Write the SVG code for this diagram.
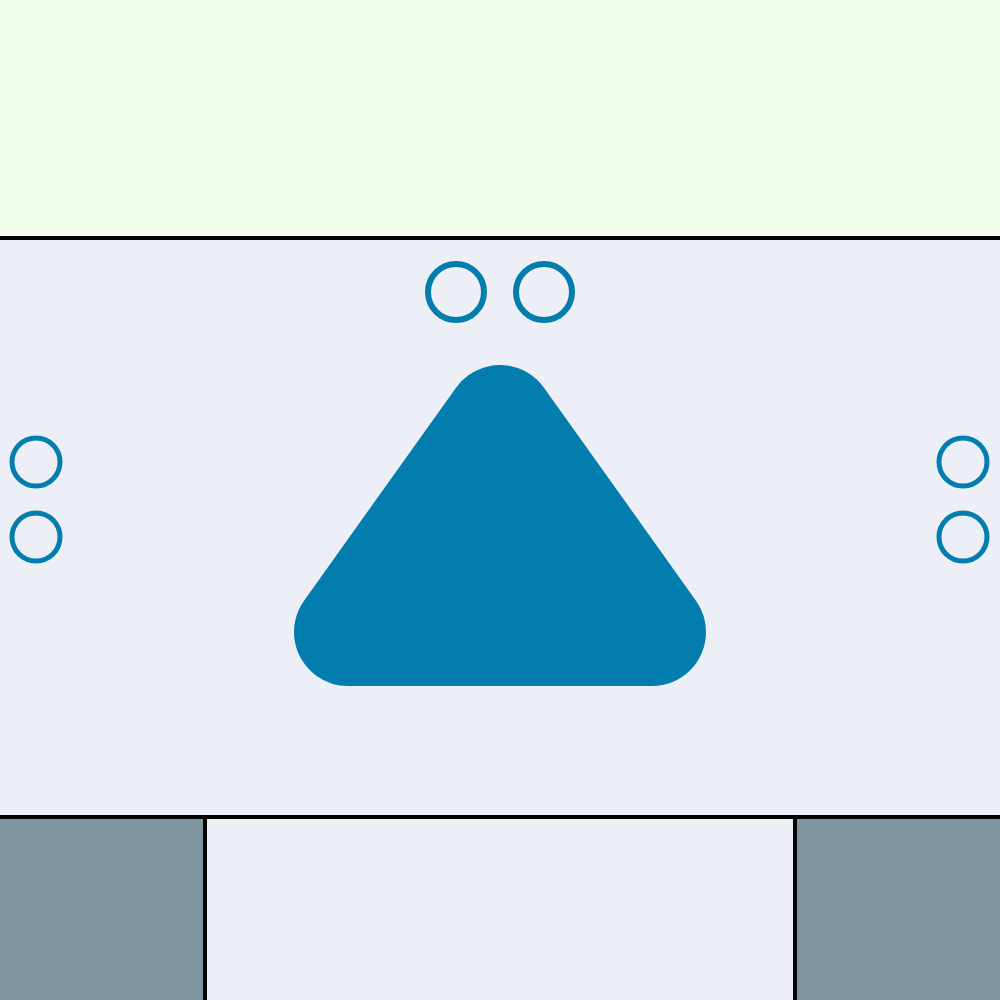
<svg xmlns="http://www.w3.org/2000/svg" width="1000" height="1000" viewBox="0 0 1000 1000">
<style>
.ring{fill:none;stroke:#037DAE}
.wall{stroke:#000;stroke-width:4;fill:none}
</style>
<rect x="0" y="0" width="1000" height="238" fill="#F2FDEC"/>
<rect x="0" y="238" width="1000" height="762" fill="#EDEFF6"/>
<rect x="0" y="817" width="205" height="183" fill="#7F96A0"/>
<rect x="795" y="817" width="205" height="183" fill="#7F96A0"/>
<g id="walls">
<line class="wall" x1="0" y1="238" x2="1000" y2="238"/>
<line class="wall" x1="0" y1="817" x2="1000" y2="817"/>
<line class="wall" x1="205" y1="817" x2="205" y2="1000"/>
<line class="wall" x1="795" y1="817" x2="795" y2="1000"/>
</g>
<g id="triangle">
<polygon points="500,419 348,632 652,632" fill="#027DAE" stroke="#027DAE" stroke-width="108" stroke-linejoin="round"/>
</g>
<g id="rings">
<circle class="ring" cx="456" cy="292" r="28" stroke-width="6"/>
<circle class="ring" cx="544" cy="292" r="28" stroke-width="6"/>
<circle class="ring" cx="36" cy="462" r="24" stroke-width="5"/>
<circle class="ring" cx="36" cy="537" r="24" stroke-width="5"/>
<circle class="ring" cx="963" cy="462" r="24" stroke-width="5"/>
<circle class="ring" cx="963" cy="537" r="24" stroke-width="5"/>
</g>
</svg>
